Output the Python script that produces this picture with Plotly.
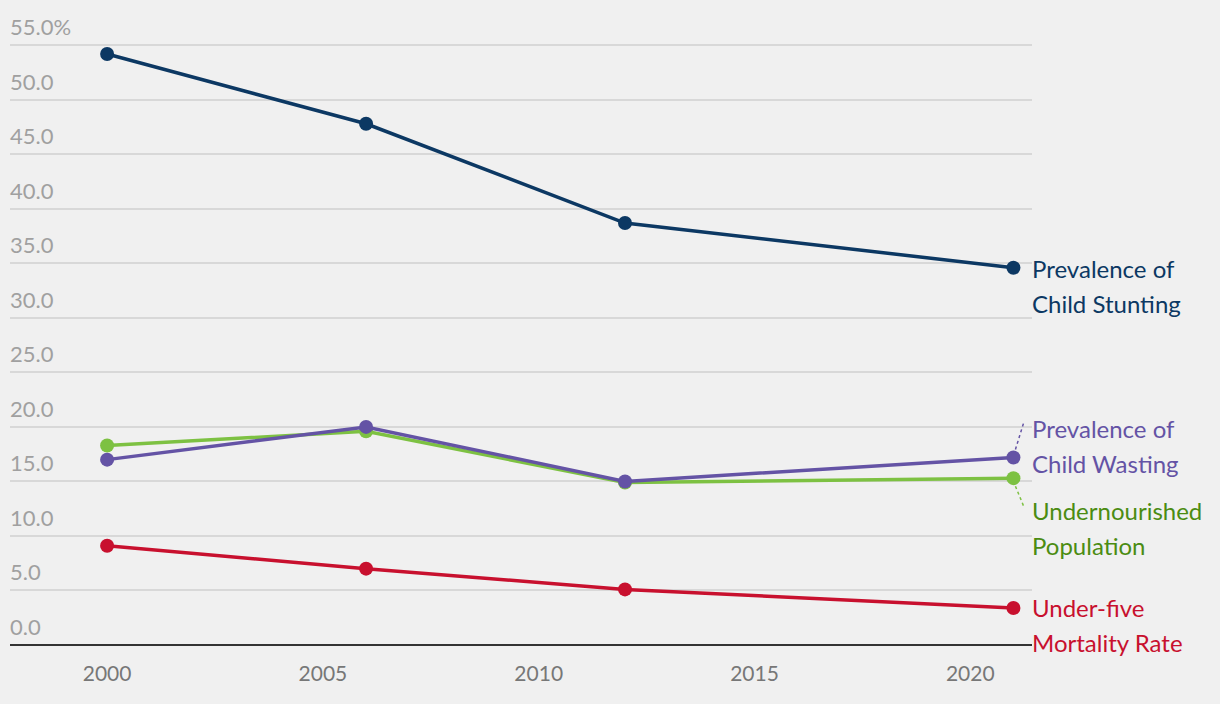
import plotly.graph_objects as go

years = [2000, 2006, 2012, 2021]
stunting = [54.2, 47.8, 38.7, 34.6]
wasting = [17.0, 20.0, 15.0, 17.2]
undernourished = [18.3, 19.6, 14.9, 15.3]
mortality = [9.1, 7.0, 5.1, 3.4]

y_ticks = [0, 5, 10, 15, 20, 25, 30, 35, 40, 45, 50, 55]
y_ticktext = ["0.0", "5.0", "10.0", "15.0", "20.0", "25.0", "30.0", "35.0", "40.0", "45.0", "50.0", "55.0%"]
x_ticks = [2000, 2005, 2010, 2015, 2020]

series = [
    ("Undernourished Population", undernourished, "#7dc142"),
    ("Prevalence of Child Wasting", wasting, "#6453a5"),
    ("Prevalence of Child Stunting", stunting, "#0c3863"),
    ("Under-five Mortality Rate", mortality, "#c8102e"),
]

FONT = "Lato"
fig = go.Figure()
for name, vals, col in series:
    fig.add_trace(go.Scatter(
        x=years, y=vals, mode="lines+markers", name=name,
        line=dict(color=col, width=3.5),
        marker=dict(color=col, size=14),
        showlegend=False, hoverinfo="skip",
    ))

# end labels (two lines each)
label_specs = [
    (["Prevalence of", "Child Stunting"], stunting[-1], "#0c3863", -1),
    (["Prevalence of", "Child Wasting"], wasting[-1], "#6453a5", 29),
    (["Undernourished", "Population"], undernourished[-1], "#4b8c12", -32),
    (["Under-five", "Mortality Rate"], mortality[-1], "#c8102e", 0),
]
for lines, yv, col, dy in label_specs:
    for i, line in enumerate(lines):
        fig.add_annotation(
            x=years[-1], y=yv, xref="x", yref="y", text=line, showarrow=False,
            xanchor="left", yanchor="middle", xshift=17, yshift=dy - 35 * i,
            align="left", font=dict(family=FONT, size=24, color=col),
        )

# y tick labels above gridlines
for v, t in zip(y_ticks, y_ticktext):
    fig.add_annotation(
        x=0, y=v, xref="paper", yref="y", text=t, showarrow=False,
        xanchor="left", yanchor="bottom", yshift=3, xshift=-2,
        font=dict(family=FONT, size=22, color="#a0a0a0"),
    )

# dotted leader lines
fig.add_shape(type="line", xref="x", yref="y", xsizemode="pixel", ysizemode="pixel",
              xanchor=years[-1], yanchor=wasting[-1], x0=2, y0=8, x1=10, y1=34,
              line=dict(color="#6453a5", width=1.5, dash="dot"))
fig.add_shape(type="line", xref="x", yref="y", xsizemode="pixel", ysizemode="pixel",
              xanchor=years[-1], yanchor=undernourished[-1], x0=2, y0=-8, x1=11, y1=-30,
              line=dict(color="#7dc142", width=1.5, dash="dot"))

fig.update_layout(
    width=1220, height=704,
    paper_bgcolor="#f0f0f0", plot_bgcolor="#f0f0f0",
    margin=dict(l=10, r=188, t=42, b=59),
    font=dict(family=FONT),
    xaxis=dict(
        range=[1997.75, 2021.43], tickvals=x_ticks, showgrid=False, zeroline=False,
        showline=False, ticks="", tickfont=dict(size=21, color="#777777"),
        ticklabelstandoff=14,
    ),
    yaxis=dict(
        range=[0, 55.3], tickvals=y_ticks, showticklabels=False,
        showgrid=True, gridcolor="#d8d8d8", gridwidth=1.5,
        zeroline=True, zerolinecolor="#333333", zerolinewidth=2,
        showline=False, ticks="",
    ),
)

fig.write_html("out.html", config={"displayModeBar": False})
with open("out.html", "r", encoding="utf-8") as f:
    html = f.read()
html = html.replace("<head>", "<head><style>html,body{margin:0;padding:0;background:#f0f0f0;}</style>", 1)
with open("out.html", "w", encoding="utf-8") as f:
    f.write(html)
